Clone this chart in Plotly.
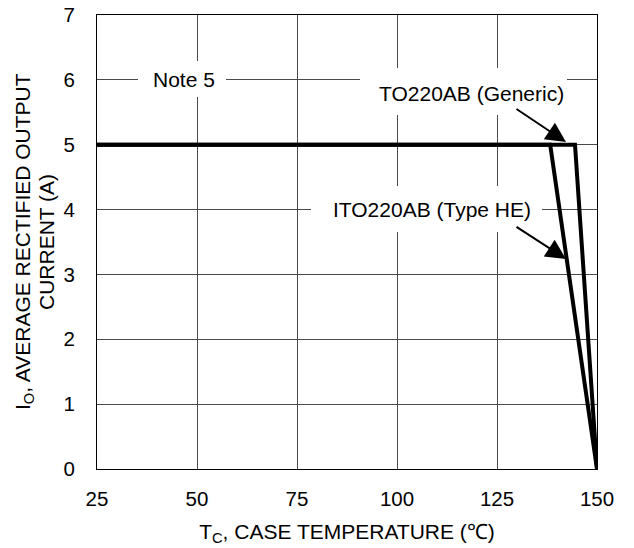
import plotly.graph_objects as go

# Data
temp_generic = [25, 144.5, 150]
current_generic = [5, 5, 0]
temp_he = [25, 138.3, 150]
current_he = [5, 5, 0]

x_ticks = [25, 50, 75, 100, 125, 150]
y_ticks = [0, 1, 2, 3, 4, 5, 6, 7]

FONT = "Liberation Sans, Arial, Helvetica, sans-serif"

fig = go.Figure()
fig.add_trace(go.Scatter(x=temp_generic, y=current_generic, mode="lines",
                         line=dict(color="black", width=4), name="TO220AB (Generic)"))
fig.add_trace(go.Scatter(x=temp_he, y=current_he, mode="lines",
                         line=dict(color="black", width=4), name="ITO220AB (Type HE)"))

axis_common = dict(showgrid=True, gridcolor="#4a4a4a", gridwidth=1,
                   showline=True, linecolor="black", linewidth=1, mirror=True,
                   ticks="", zeroline=False, automargin=False,
                   tickfont=dict(size=20.5, color="black", family=FONT))

fig.update_xaxes(range=[25, 150], tickvals=x_ticks, ticklabelstandoff=11,
                 title=dict(text="T<sub>C</sub>, CASE TEMPERATURE (℃)",
                            font=dict(size=21, color="black", family=FONT), standoff=15),
                 **axis_common)
fig.update_yaxes(range=[0, 7], tickvals=y_ticks, ticklabelstandoff=17, **axis_common)

# white label boxes (hide gridlines behind text)
boxes = [
    (138, 61, 226, 97),
    (360, 68, 567, 115),
    (311, 186, 542, 232),
]
def px2x(p):
    return (p - 97) / 500 * 125 + 25
def py2y(p):
    return (469 - p) / 454 * 7
for x0, y0, x1, y1 in boxes:
    fig.add_shape(type="rect", xref="x", yref="y", x0=px2x(x0), x1=px2x(x1),
                  y0=py2y(y1), y1=py2y(y0), fillcolor="white", line=dict(width=0),
                  layer="above")

labels = [
    ("Note 5", 46.75, 6.0),
    ("TO220AB (Generic)", 118.5, 5.79),
    ("ITO220AB (Type HE)", 108.75, 4.0),
]
for t, x, y in labels:
    fig.add_annotation(text=t, x=x, y=y, xref="x", yref="y", showarrow=False,
                       font=dict(size=21, color="black", family=FONT),
                       xanchor="center", yanchor="middle")

arrows = [
    (142.25, 5.04, 129.5, 5.566),
    (142.25, 3.238, 129.5, 3.747),
]
for x, y, ax, ay in arrows:
    fig.add_annotation(text="", x=x, y=y, ax=ax, ay=ay, xref="x", yref="y",
                       axref="x", ayref="y", showarrow=True, arrowhead=2,
                       arrowsize=2, arrowwidth=2, arrowcolor="black", standoff=0)

# y-axis title as two lines
fig.add_annotation(text="I<sub>O</sub>, AVERAGE RECTIFIED OUTPUT", xref="paper", yref="paper",
                   x=0, y=0.5, xshift=-73, textangle=-90, showarrow=False,
                   xanchor="center", yanchor="middle",
                   font=dict(size=21, color="black", family=FONT))
fig.add_annotation(text="CURRENT (A)", xref="paper", yref="paper",
                   x=0, y=0.5, xshift=-51, textangle=-90, showarrow=False,
                   xanchor="center", yanchor="middle",
                   font=dict(size=21, color="black", family=FONT))

fig.update_layout(width=634, height=548, margin=dict(l=97, r=37, t=15, b=79, autoexpand=False),
                  plot_bgcolor="white", paper_bgcolor="white", showlegend=False,
                  font=dict(family=FONT, color="black"))

fig.write_html("out.html")
